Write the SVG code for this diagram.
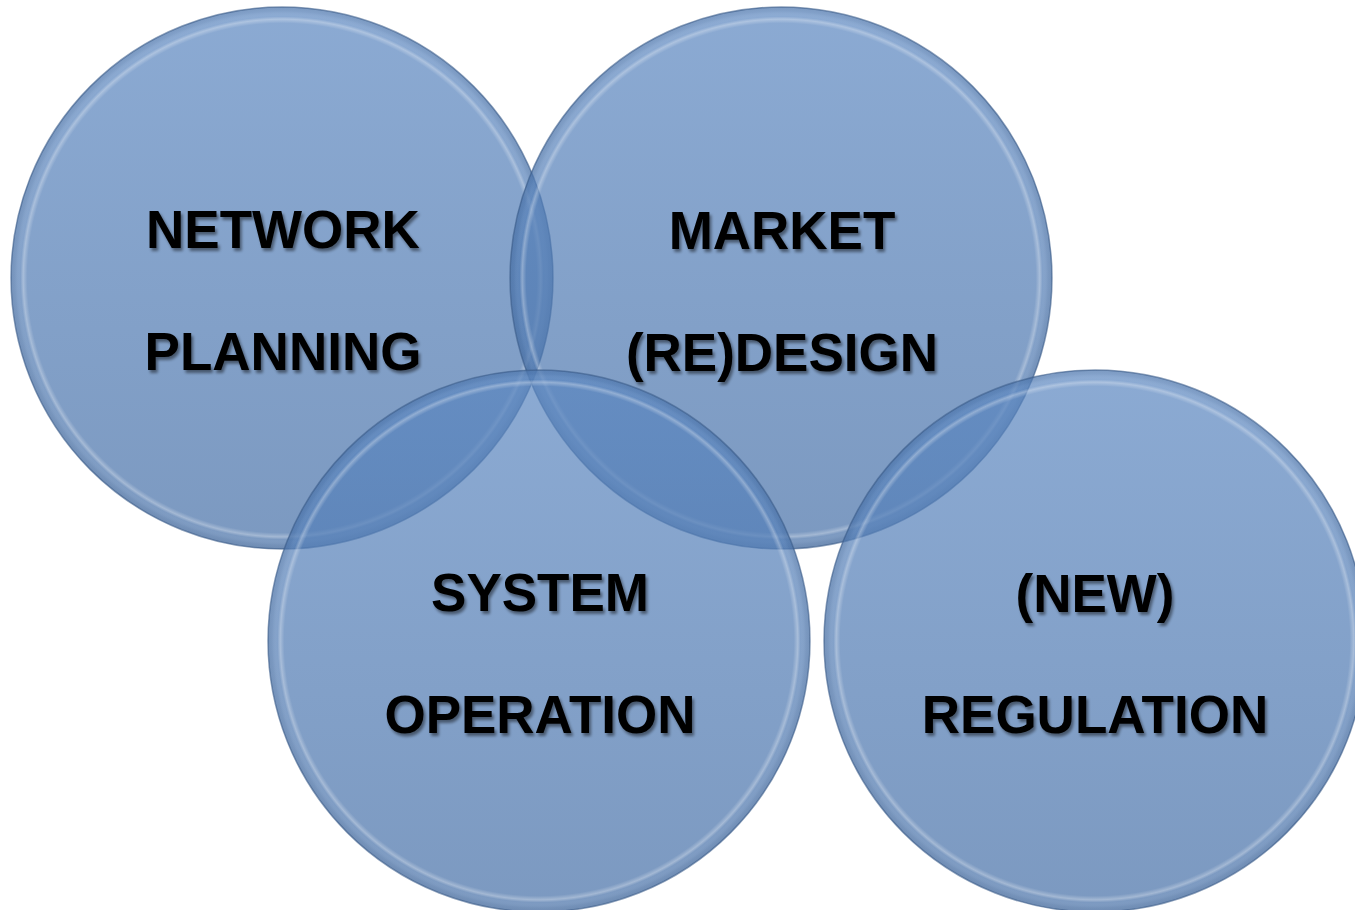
<svg xmlns="http://www.w3.org/2000/svg" width="1355" height="910" viewBox="0 0 1355 910">
  <defs>
    <linearGradient id="fillGrad" x1="0" y1="0" x2="0" y2="1">
      <stop offset="0" stop-color="#5a86c0"/>
      <stop offset="1" stop-color="#446ea6"/>
    </linearGradient>
    <radialGradient id="rimGrad" cx="0.5" cy="0.5" r="0.5">
      <stop offset="0.94" stop-color="#ffffff" stop-opacity="0"/>
      <stop offset="0.955" stop-color="#ffffff" stop-opacity="0.3"/>
      <stop offset="0.965" stop-color="#ffffff" stop-opacity="0"/>
      <stop offset="0.985" stop-color="#203a60" stop-opacity="0.08"/>
      <stop offset="1" stop-color="#203a60" stop-opacity="0.15"/>
    </radialGradient>
    <filter id="shadow" x="-10%" y="-30%" width="130%" height="170%">
      <feGaussianBlur in="SourceAlpha" stdDeviation="1.6"/>
      <feOffset dx="2" dy="3" result="b"/>
      <feComponentTransfer><feFuncA type="linear" slope="0.45"/></feComponentTransfer>
      <feMerge><feMergeNode/><feMergeNode in="SourceGraphic"/></feMerge>
    </filter>
  </defs>
  <style>
    .disc { fill: url(#fillGrad); fill-opacity: 0.7; stroke: #3e5f8c; stroke-opacity: 0.6; stroke-width: 1.5; }
    .rim { fill: url(#rimGrad); }
    .lbl { font-family: "Liberation Sans", Arial, sans-serif; font-weight: bold; font-size: 53px; fill: #000; text-anchor: middle; filter: url(#shadow); }
  </style>
  <rect width="1355" height="910" fill="#ffffff"/>
  <g id="network-planning">
    <circle class="disc" cx="282" cy="278" r="271"/>
    <circle class="rim" cx="282" cy="278" r="271"/>
    <text class="lbl" x="283" y="248">NETWORK</text>
    <text class="lbl" x="283" y="370">PLANNING</text>
  </g>
  <g id="market-redesign">
    <circle class="disc" cx="781" cy="278" r="271"/>
    <circle class="rim" cx="781" cy="278" r="271"/>
    <text class="lbl" x="782" y="249">MARKET</text>
    <text class="lbl" x="782" y="371">(RE)DESIGN</text>
  </g>
  <g id="system-operation">
    <circle class="disc" cx="539" cy="641" r="271"/>
    <circle class="rim" cx="539" cy="641" r="271"/>
    <text class="lbl" x="540" y="611">SYSTEM</text>
    <text class="lbl" x="540" y="733">OPERATION</text>
  </g>
  <g id="new-regulation">
    <circle class="disc" cx="1095" cy="641" r="271"/>
    <circle class="rim" cx="1095" cy="641" r="271"/>
    <text class="lbl" x="1095" y="612">(NEW)</text>
    <text class="lbl" x="1095" y="733">REGULATION</text>
  </g>
  <g id="connectors"></g>
</svg>
